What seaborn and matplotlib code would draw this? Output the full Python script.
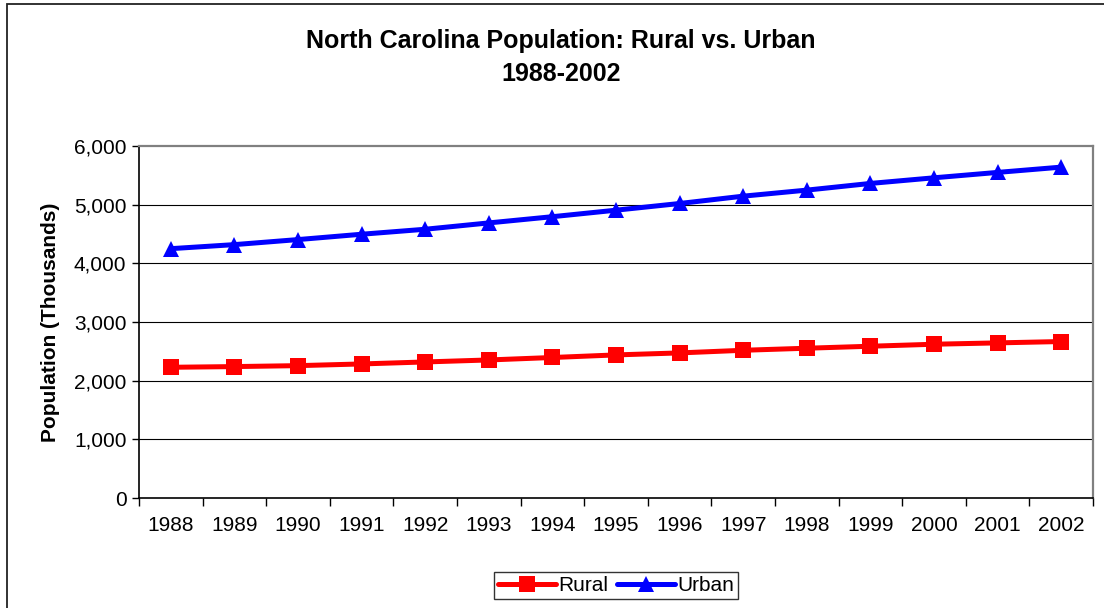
import matplotlib
matplotlib.use("Agg")
import matplotlib.pyplot as plt
import matplotlib.ticker as mticker
from matplotlib.patches import Rectangle
import numpy as np
import pandas as pd
import seaborn as sns

years = ["1988", "1989", "1990", "1991", "1992", "1993", "1994", "1995",
         "1996", "1997", "1998", "1999", "2000", "2001", "2002"]
rural = [2228, 2240, 2256, 2285, 2319, 2353, 2395, 2439,
         2473, 2518, 2553, 2587, 2621, 2644, 2667]
urban = [4250, 4319, 4405, 4496, 4581, 4689, 4795, 4906,
         5020, 5145, 5248, 5362, 5458, 5550, 5640]
series_names = ["Rural", "Urban"]
y_ticks = [0, 1000, 2000, 3000, 4000, 5000, 6000]

sns.set_theme(style="white")
plt.rcParams["font.family"] = ["Liberation Sans", "DejaVu Sans"]
plt.rcParams["text.color"] = "black"
plt.rcParams["axes.labelcolor"] = "black"
plt.rcParams["xtick.color"] = "black"
plt.rcParams["ytick.color"] = "black"

df = pd.DataFrame({
    "Year": years * 2,
    "Population": rural + urban,
    "Series": [series_names[0]] * len(years) + [series_names[1]] * len(years),
})

fig = plt.figure(figsize=(11.04, 6.08), dpi=100)
ax = fig.add_axes([139 / 1104, 1 - 498 / 608, (1093 - 139) / 1104, (498 - 146) / 608])

# outer chart frame
fig.patches.append(Rectangle((7 / 1104, -0.05), 1.1, 1 - 4.5 / 608 + 0.05,
                             transform=fig.transFigure, fill=False,
                             edgecolor="#222222", linewidth=1.3, zorder=0))

sns.lineplot(data=df, x="Year", y="Population", hue="Series", style="Series",
             palette={"Rural": "#FF0000", "Urban": "#0000FF"},
             markers={"Rural": "s", "Urban": "^"}, dashes=False,
             linewidth=3.6, markersize=11, markeredgewidth=0,
             ax=ax, legend=False, zorder=3)

ax.set_xlim(-0.5, len(years) - 0.5)
ax.set_ylim(0, 6000)

ax.set_yticks(y_ticks)
ax.yaxis.set_major_formatter(mticker.FuncFormatter(lambda v, p: f"{int(v):,}"))
ax.tick_params(axis="y", which="major", length=5, width=1, direction="out",
               color="black", labelcolor="black", labelsize=15, pad=4, left=True)

ax.set_xticks(np.arange(len(years)))
ax.set_xticklabels(years)
ax.set_xticks(np.arange(len(years) + 1) - 0.5, minor=True)
ax.tick_params(axis="x", which="major", length=0, labelsize=15, pad=13,
               labelcolor="black")
ax.tick_params(axis="x", which="minor", length=6, width=1, direction="out",
               color="black", bottom=True)

ax.grid(False)
for yv in y_ticks[1:-1]:
    ax.axhline(yv, color="black", linewidth=0.8, zorder=1)

for side in ["left", "bottom"]:
    ax.spines[side].set_color("black")
    ax.spines[side].set_linewidth(1.2)
for side in ["top", "right"]:
    ax.spines[side].set_color("#808080")
    ax.spines[side].set_linewidth(1.6)

ax.set_xlabel("")
ax.set_ylabel("Population (Thousands)", fontsize=15, fontweight="bold",
              labelpad=10, color="black")

fig.text(561 / 1104, 1 - 41 / 608, "North Carolina Population: Rural vs. Urban",
         ha="center", va="center", fontsize=18, fontweight="bold", color="black")
fig.text(561 / 1104, 1 - 74 / 608, "1988-2002",
         ha="center", va="center", fontsize=18, fontweight="bold", color="black")

handles = [ax.lines[0], ax.lines[1]]
leg = fig.legend(handles, series_names, loc="center",
                 bbox_to_anchor=(616 / 1104, 1 - 585.5 / 608), ncol=2,
                 fontsize=15, frameon=True, fancybox=False, shadow=False,
                 handlelength=2.8, handletextpad=0.1, columnspacing=0.4,
                 borderpad=0.2, borderaxespad=0, labelcolor="black")
leg.get_frame().set_edgecolor("black")
leg.get_frame().set_linewidth(1.0)

fig.savefig("out.png", dpi=100)
